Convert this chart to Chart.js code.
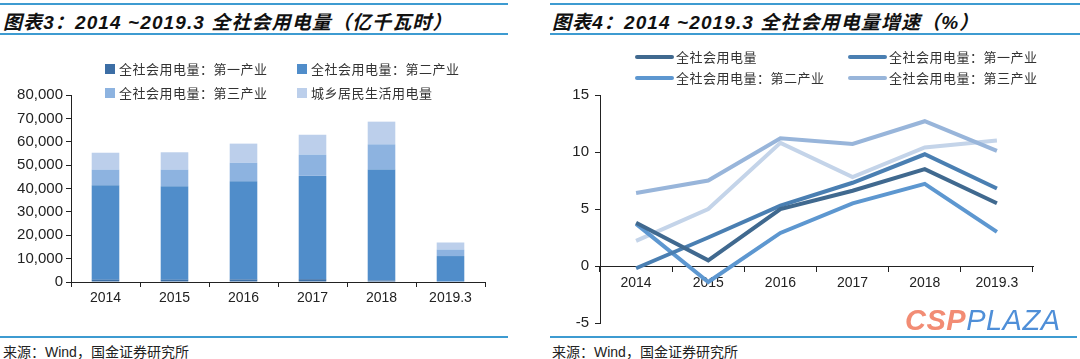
<!DOCTYPE html>
<html>
<head>
<meta charset="utf-8">
<script src="https://cdn.jsdelivr.net/npm/chart.js@4/dist/chart.umd.min.js"></script>
<style>
  body { margin: 0; width: 1080px; height: 359px; background: #fff; position: relative; overflow: hidden;
         font-family: "Liberation Sans", "Noto Sans CJK SC", sans-serif; color: #222; }
  .rule { position: absolute; background: #3d9bd1; }
  .title { position: absolute; top: 7px; font-size: 19px; font-weight: bold; font-style: italic;
           white-space: nowrap; letter-spacing: 1.1px; color: #111; }
  .source { position: absolute; top: 341px; font-size: 14px; white-space: nowrap; color: #222;
            font-family: "Liberation Sans", "Noto Sans CJK SC", sans-serif; }
  .leg { position: absolute; font-size: 13px; letter-spacing: 0.5px; white-space: nowrap; color: #333;
         font-family: "Noto Sans CJK SC", sans-serif; line-height: 16px; }
  .leg i { position: absolute; display: block; }
  canvas { position: absolute; top: 0; }
  .wm { position: absolute; left: 905px; top: 304px; font-size: 29px; font-style: italic; white-space: nowrap;
        font-family: "Liberation Sans", sans-serif; letter-spacing: 0.5px; }
</style>
</head>
<body>
<!-- headers / footers -->
<div class="rule" style="left:0;top:3px;width:508px;height:2px"></div>
<div class="rule" style="left:0;top:33px;width:508px;height:2px"></div>
<div class="rule" style="left:0;top:336px;width:508px;height:2px"></div>
<div class="rule" style="left:550px;top:3px;width:530px;height:2px"></div>
<div class="rule" style="left:550px;top:33px;width:530px;height:2px"></div>
<div class="rule" style="left:550px;top:336px;width:527px;height:2px"></div>

<div class="title" style="left:3px">图表3：2014 ~2019.3 全社会用电量（亿千瓦时）</div>
<div class="title" style="left:552px">图表4：2014 ~2019.3 全社会用电量增速（%）</div>

<div class="source" style="left:3px">来源：Wind，国金证券研究所</div>
<div class="source" style="left:552px">来源：Wind，国金证券研究所</div>

<canvas id="bar-chart" width="540" height="320" style="left:0"></canvas>
<canvas id="growth-chart" width="540" height="340" style="left:540px"></canvas>

<div id="bar-legend"></div>
<div id="growth-legend"></div>

<div class="wm"><span style="color:#f28c74;font-weight:bold">CSP</span><span style="color:#4f8fd8">PLAZA</span></div>

<script>
// ---- data ----
const years = ['2014', '2015', '2016', '2017', '2018', '2019.3'];

// 亿千瓦时
const usePrimary     = [1000, 1000, 1100, 1200, 700, 200];
const useSecondary   = [40400, 40000, 42000, 44200, 47400, 10900];
const useTertiary    = [6700, 7100, 7900, 9100, 10800, 2800];
const useResidential = [7200, 7400, 8200, 8500, 9700, 3000];
const barTicks = [0, 10000, 20000, 30000, 40000, 50000, 60000, 70000, 80000];

// %
const growthTotal       = [3.8, 0.5, 5.0, 6.6, 8.5, 5.5];
const growthPrimary     = [-0.2, 2.5, 5.3, 7.3, 9.8, 6.8];
const growthSecondary   = [3.7, -1.4, 2.9, 5.5, 7.2, 3.0];
const growthTertiary    = [6.4, 7.5, 11.2, 10.7, 12.7, 10.1];
const growthResidential = [2.2, 5.0, 10.8, 7.8, 10.4, 11.0];
const growthTicks = [-5, 0, 5, 10, 15];

const barSeries = [
    { label: '全社会用电量：第一产业', data: usePrimary, color: '#3c6ea5' },
    { label: '全社会用电量：第二产业', data: useSecondary, color: '#508dca' },
    { label: '全社会用电量：第三产业', data: useTertiary, color: '#8db3e0' },
    { label: '城乡居民生活用电量', data: useResidential, color: '#bccfeb' }
];

const lineSeries = [
    { label: '全社会用电量', data: growthTotal, color: '#40698f', legend: true },
    { label: '全社会用电量：第一产业', data: growthPrimary, color: '#4a7fb2', legend: true },
    { label: '全社会用电量：第二产业', data: growthSecondary, color: '#5d97d0', legend: true },
    { label: '全社会用电量：第三产业', data: growthTertiary, color: '#98b5da', legend: true },
    { label: '城乡居民生活用电量', data: growthResidential, color: '#c4d4e9', legend: false }
];

Chart.defaults.font.family = "'Liberation Sans', Arial, sans-serif";
Chart.defaults.font.size = 14;
Chart.defaults.color = '#222';
Chart.defaults.animation = false;

const axisColor = '#222';

/**
 * LEGENDS (html, 2 columns)
 */
function buildBarLegend() {
    const pos = [[105, 61], [297, 61], [105, 85], [297, 85]];
    document.getElementById('bar-legend').innerHTML = barSeries.map((s, i) => `
        <div class="leg" style="left:${pos[i][0]}px;top:${pos[i][1]}px;padding-left:14px">
            <i style="left:0;top:3px;width:10px;height:10px;background:${s.color}"></i>${s.label}
        </div>`).join('');
}

function buildGrowthLegend() {
    const pos = [[635, 49], [848, 49], [635, 70], [848, 70]];
    const items = lineSeries.filter(s => s.legend);
    document.getElementById('growth-legend').innerHTML = items.map((s, i) => `
        <div class="leg" style="left:${pos[i][0]}px;top:${pos[i][1]}px;padding-left:41px">
            <i style="left:0;top:6px;width:39px;height:4px;border-radius:2px;background:${s.color}"></i>${s.label}
        </div>`).join('');
}

/**
 * BAR CHART
 */
function drawBarChart() {
    const ctx = document.getElementById('bar-chart').getContext('2d');
    new Chart(ctx, {
        type: 'bar',
        data: {
            labels: years,
            datasets: barSeries.map(s => ({
                label: s.label,
                data: s.data,
                backgroundColor: s.color,
                borderWidth: 0,
                barPercentage: 0.4,
                categoryPercentage: 1
            }))
        },
        options: {
            responsive: false,
            maintainAspectRatio: false,
            layout: { padding: { top: 95, right: 55, left: 0, bottom: 0 } },
            plugins: { legend: { display: false }, tooltip: { enabled: false } },
            scales: {
                x: {
                    stacked: true,
                    grid: { display: true, drawOnChartArea: false, offset: true, tickLength: 5, color: axisColor },
                    border: { display: true, color: axisColor, width: 1 },
                    ticks: { padding: 3, color: axisColor, maxRotation: 0 },
                    afterFit: scale => { scale.height = 38; }
                },
                y: {
                    stacked: true,
                    min: barTicks[0],
                    max: barTicks[barTicks.length - 1],
                    afterBuildTicks: scale => { scale.ticks = barTicks.map(v => ({ value: v })); },
                    grid: { display: true, drawOnChartArea: false, tickLength: 5, color: axisColor },
                    border: { display: true, color: axisColor, width: 1 },
                    ticks: { padding: 3, color: axisColor, font: { size: 15 }, callback: v => v.toLocaleString('en-US') },
                    afterFit: scale => { scale.width = 71; }
                }
            }
        }
    });
}

/**
 * LINE CHART
 */
function drawGrowthChart() {
    const ctx = document.getElementById('growth-chart').getContext('2d');
    new Chart(ctx, {
        type: 'line',
        data: {
            labels: years,
            datasets: lineSeries.map(s => ({
                label: s.label,
                data: s.data,
                borderColor: s.color,
                backgroundColor: s.color,
                borderWidth: 4,
                pointRadius: 0,
                tension: 0,
                fill: false
            }))
        },
        options: {
            responsive: false,
            maintainAspectRatio: false,
            layout: { padding: { top: 95, right: 47, left: 0, bottom: 17 } },
            plugins: { legend: { display: false }, tooltip: { enabled: false } },
            scales: {
                x: {
                    position: { y: 0 },
                    offset: true,
                    grid: { display: true, drawOnChartArea: false, offset: true, tickLength: 5, color: axisColor },
                    border: { display: true, color: axisColor, width: 1 },
                    ticks: { padding: 4, color: axisColor, maxRotation: 0 }
                },
                y: {
                    min: growthTicks[0],
                    max: growthTicks[growthTicks.length - 1],
                    afterBuildTicks: scale => { scale.ticks = growthTicks.map(v => ({ value: v })); },
                    grid: { display: true, drawOnChartArea: false, tickLength: 5, color: axisColor },
                    border: { display: true, color: axisColor, width: 1 },
                    ticks: { padding: 6, color: axisColor, font: { size: 15 } },
                    afterFit: scale => { scale.width = 60; }
                }
            }
        }
    });
}

buildBarLegend();
buildGrowthLegend();
drawBarChart();
drawGrowthChart();
</script>
</body>
</html>
